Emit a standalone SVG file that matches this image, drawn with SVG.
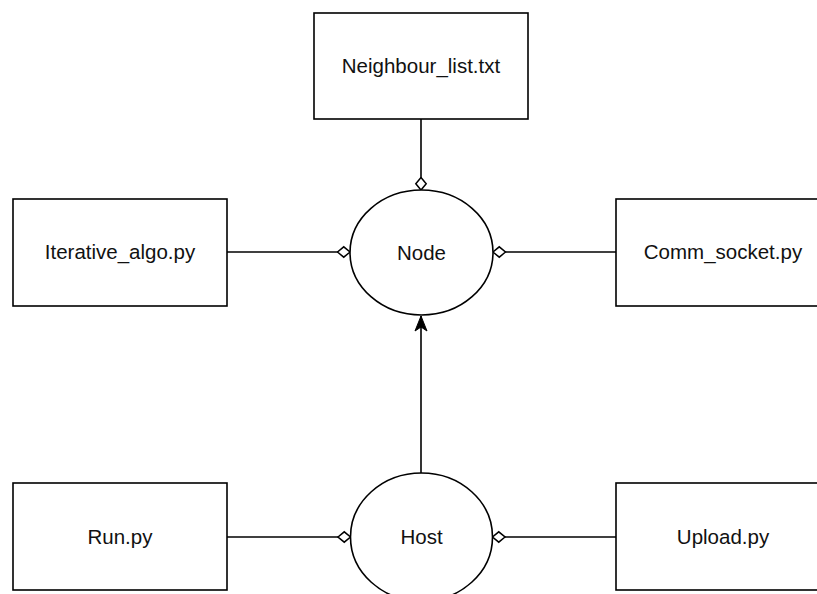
<svg xmlns="http://www.w3.org/2000/svg" width="817" height="594" viewBox="0 0 817 594">
  <style>
    .box { fill: #ffffff; stroke: #000000; stroke-width: 1.6; }
    .lbl { font-family: "Liberation Sans", Arial, Helvetica, sans-serif; font-size: 20.5px; fill: #111111; text-anchor: middle; }
    .conn { fill: none; stroke: #000000; stroke-width: 1.6; }
  </style>
  <defs>
    <marker id="diamond" markerUnits="userSpaceOnUse" markerWidth="16" markerHeight="14" viewBox="-1 -7 16 14" refX="12.5" refY="0" orient="auto">
      <path d="M0,0 L6.25,-5.2 L12.5,0 L6.25,5.2 Z" fill="#ffffff" stroke="#000000" stroke-width="1.5"/>
    </marker>
    <marker id="arrow" markerUnits="userSpaceOnUse" markerWidth="18" markerHeight="16" viewBox="-1 -8 18 16" refX="15" refY="0" orient="auto">
      <path d="M0,-6 L15,0 L0,6 L4,0 Z" fill="#000000" stroke="#000000" stroke-width="1"/>
    </marker>
  </defs>

  <g id="connectors">
    <path class="conn" d="M421,119 L421,190" marker-end="url(#diamond)"/>
    <path class="conn" d="M227,252 L350,252" marker-end="url(#diamond)"/>
    <path class="conn" d="M616,252 L493,252" marker-end="url(#diamond)"/>
    <path class="conn" d="M227,537 L350.5,537" marker-end="url(#diamond)"/>
    <path class="conn" d="M616,537 L492.5,537" marker-end="url(#diamond)"/>
    <path class="conn" d="M421,473 L421,316" marker-end="url(#arrow)"/>
  </g>

  <g id="neighbour_list">
    <rect class="box" x="314" y="13" width="214" height="106"/>
    <text class="lbl" x="421" y="73">Neighbour_list.txt</text>
  </g>
  <g id="iterative_algo">
    <rect class="box" x="13" y="199" width="214" height="107"/>
    <text class="lbl" x="120" y="259">Iterative_algo.py</text>
  </g>
  <g id="comm_socket">
    <rect class="box" x="616" y="199" width="214" height="107"/>
    <text class="lbl" x="723" y="259">Comm_socket.py</text>
  </g>
  <g id="node">
    <ellipse class="box" cx="421.5" cy="252.5" rx="71.5" ry="62.5"/>
    <text class="lbl" x="421.5" y="259.5">Node</text>
  </g>
  <g id="host">
    <ellipse class="box" cx="421.5" cy="537" rx="71" ry="64"/>
    <text class="lbl" x="421.5" y="544">Host</text>
  </g>
  <g id="run">
    <rect class="box" x="13" y="483" width="214" height="107"/>
    <text class="lbl" x="120" y="544">Run.py</text>
  </g>
  <g id="upload">
    <rect class="box" x="616" y="483" width="214" height="107"/>
    <text class="lbl" x="723" y="544">Upload.py</text>
  </g>
</svg>
